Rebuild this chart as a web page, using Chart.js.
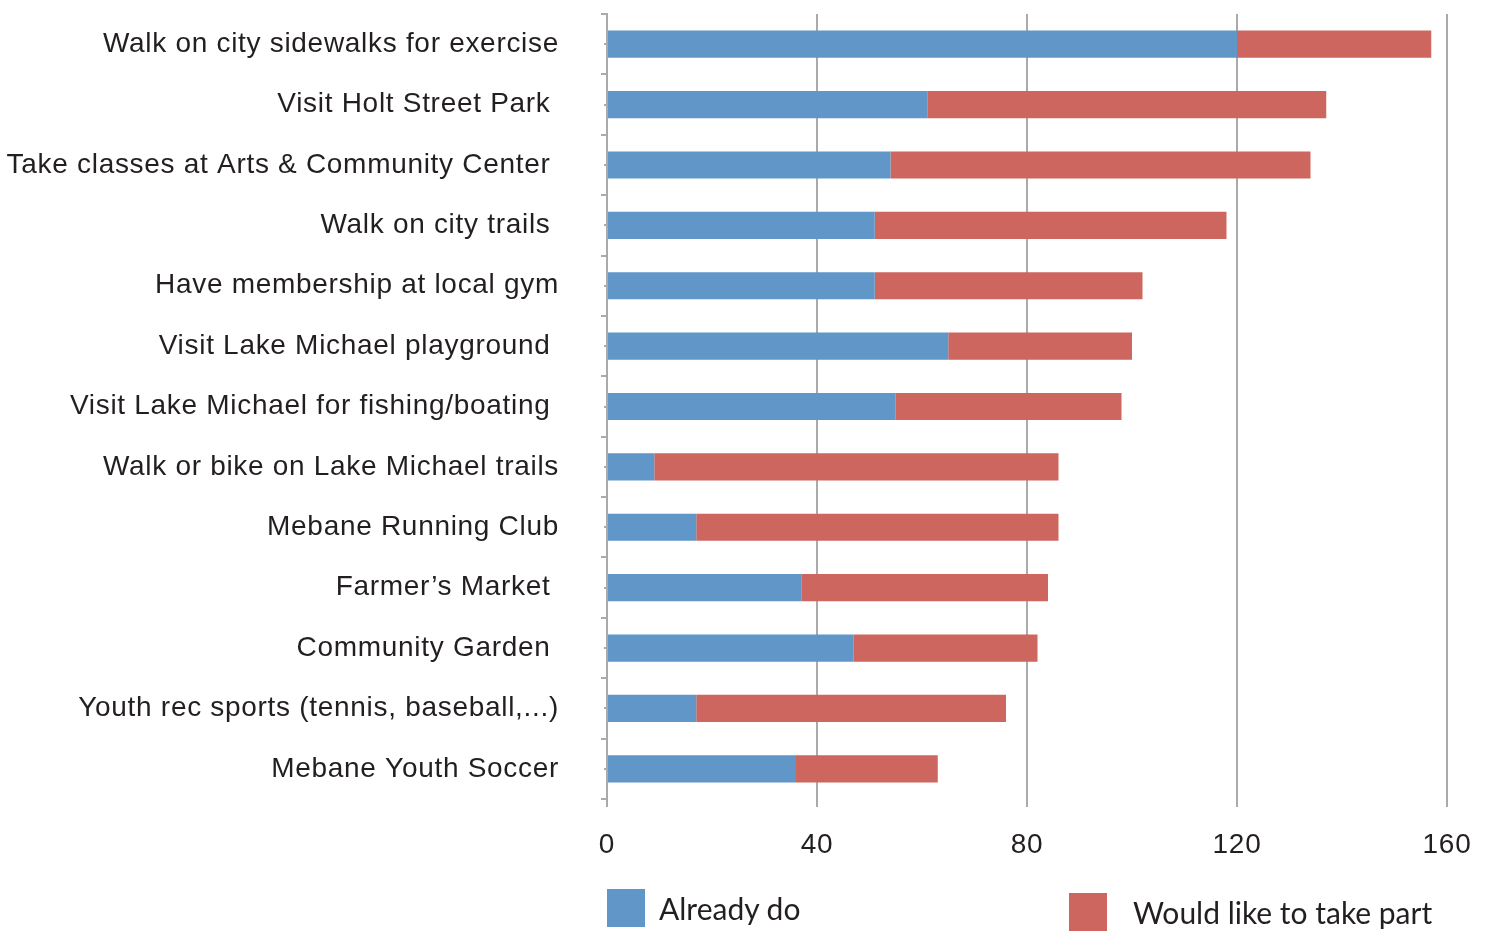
<!DOCTYPE html>
<html>
<head>
<meta charset="utf-8">
<script src="https://cdn.jsdelivr.net/npm/chart.js@4.4.1/dist/chart.umd.min.js"></script>
<style>
  html, body { margin: 0; padding: 0; background: #fff; }
  #wrap { position: relative; width: 1486px; height: 931px; overflow: hidden; }
  #legend { position: absolute; left: 0; top: 0; width: 1486px; height: 931px; pointer-events: none;
    font-family: "Lato", "Noto Sans", sans-serif; font-size: 30px; color: #231f20; }
  .item { position: absolute; display: flex; align-items: center; }
  .box { width: 38px; height: 38px; margin-right: 14px; }
</style>
</head>
<body>
<div id="wrap">
  <canvas id="chart" width="1486" height="931"></canvas>
  <div id="legend"></div>
</div>
<script>
// categories, top to bottom
const activities = [
  'Walk on city sidewalks for exercise',
  'Visit Holt Street Park ',
  'Take classes at Arts & Community Center ',
  'Walk on city trails ',
  'Have membership at local gym',
  'Visit Lake Michael playground ',
  'Visit Lake Michael for fishing/boating ',
  'Walk or bike on Lake Michael trails',
  'Mebane Running Club',
  'Farmer\u2019s Market ',
  'Community Garden ',
  'Youth rec sports (tennis, baseball,...)',
  'Mebane Youth Soccer'
];
const alreadyDo = [120, 61, 54, 51, 51, 65, 55, 9, 17, 37, 47, 17, 36];
const wouldLike = [37, 76, 80, 67, 51, 35, 43, 77, 69, 47, 35, 59, 27];
const xTicks = [0, 40, 80, 120, 160];

const blue = '#6096c8';
const red = '#cc665f';
const gridGray = '#aaaaaa';

// slightly wider text tracking, like the original labels
const tracking = {
  id: 'tracking',
  beforeDraw(chart) { chart.ctx.letterSpacing = '0.7px'; }
};

// short tick marks at the middle of each category
const centerTicks = {
  id: 'centerTicks',
  afterDraw(chart) {
    const y = chart.scales.y;
    const ctx = chart.ctx;
    ctx.save();
    ctx.strokeStyle = gridGray;
    ctx.lineWidth = 2;
    activities.forEach((a, i) => {
      const py = Math.round(y.getPixelForValue(i));
      ctx.beginPath();
      ctx.moveTo(y.right - 3, py);
      ctx.lineTo(y.right, py);
      ctx.stroke();
    });
    ctx.restore();
  }
};

const chart = new Chart(document.getElementById('chart'), {
  type: 'bar',
  data: {
    labels: activities,
    datasets: [
      { label: 'Already do', data: alreadyDo, backgroundColor: blue },
      { label: 'Would like to take part', data: wouldLike, backgroundColor: red }
    ]
  },
  options: {
    indexAxis: 'y',
    responsive: false,
    animation: false,
    events: [],
    barPercentage: 0.45,
    categoryPercentage: 1,
    layout: { padding: { top: 14, right: 39, bottom: 72, left: 0 } },
    scales: {
      x: {
        stacked: true,
        min: 0,
        max: 160,
        afterBuildTicks: s => { s.ticks = xTicks.map(v => ({ value: v })); },
        afterFit: s => { s.height = 60; s.paddingLeft = 0; s.paddingRight = 0; },
        border: { display: false },
        grid: { color: gridGray, lineWidth: 2, tickLength: 8 },
        ticks: {
          padding: 21,
          color: '#231f20',
          font: { family: 'Liberation Sans', size: 28 }
        }
      },
      y: {
        stacked: true,
        afterFit: s => { s.width = 607; s.paddingTop = 0; s.paddingBottom = 0; },
        border: { display: true, color: gridGray, width: 2 },
        grid: { offset: true, drawOnChartArea: false, color: gridGray, lineWidth: 2, tickLength: 6 },
        ticks: {
          padding: 42,
          color: '#231f20',
          font: { family: 'Liberation Sans', size: 28 }
        }
      }
    },
    plugins: {
      legend: { display: false },
      tooltip: { enabled: false }
    }
  },
  plugins: [tracking, centerTicks]
});

// legend built from the datasets
const legendPos = [{ left: 607, top: 889 }, { left: 1069, top: 893 }];
const legendEl = document.getElementById('legend');
chart.data.datasets.forEach((ds, i) => {
  const item = document.createElement('div');
  item.className = 'item';
  item.style.left = legendPos[i].left + 'px';
  item.style.top = legendPos[i].top + 'px';
  const box = document.createElement('div');
  box.className = 'box';
  box.style.background = ds.backgroundColor;
  if (i === 1) box.style.marginRight = '26px';
  const txt = document.createElement('span');
  txt.textContent = ds.label;
  item.appendChild(box);
  item.appendChild(txt);
  legendEl.appendChild(item);
});
</script>
</body>
</html>
